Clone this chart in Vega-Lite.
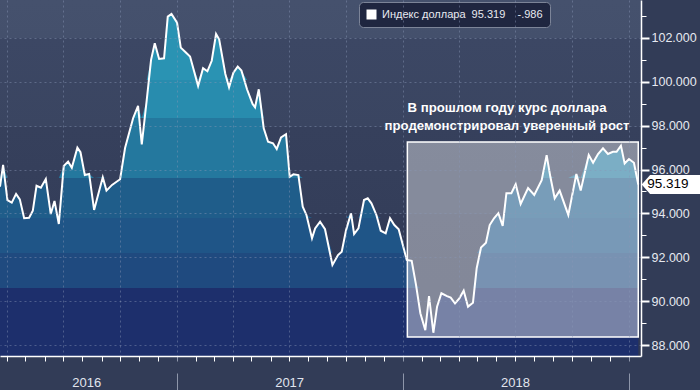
{
  "$schema": "https://vega.github.io/schema/vega-lite/v6.json",
  "width": 641,
  "height": 356,
  "autosize": {"type": "none"},
  "padding": {"left": 0, "top": 0, "right": 59, "bottom": 34},
  "background": "#323c57",
  "config": {
    "view": {
      "stroke": null,
      "fill": {"gradient": "linear", "x1": 0, "y1": 0, "x2": 0, "y2": 1, "stops": [
        {"offset": 0, "color": "#45516d"}, {"offset": 0.107, "color": "#44506c"},
        {"offset": 0.107, "color": "#3c4764"}, {"offset": 0.357, "color": "#3a4561"},
        {"offset": 0.357, "color": "#36405c"}, {"offset": 0.601, "color": "#343e5a"},
        {"offset": 0.601, "color": "#323b57"}, {"offset": 1, "color": "#303954"}
      ]}
    }
  },
  "resolve": {"scale": {"y": "independent"}},
  "datasets": {
    "dxy": [
      {"date": "2016-03-21", "value": 95.22}, {"date": "2016-03-26", "value": 96.21}, {"date": "2016-04-02", "value": 94.61}, {"date": "2016-04-09", "value": 94.49},
      {"date": "2016-04-16", "value": 94.89}, {"date": "2016-04-22", "value": 94.64}, {"date": "2016-04-29", "value": 93.78}, {"date": "2016-05-07", "value": 93.80},
      {"date": "2016-05-13", "value": 94.12}, {"date": "2016-05-19", "value": 95.26}, {"date": "2016-05-26", "value": 95.17}, {"date": "2016-06-03", "value": 95.57},
      {"date": "2016-06-11", "value": 93.97}, {"date": "2016-06-17", "value": 94.57}, {"date": "2016-06-24", "value": 93.52}, {"date": "2016-07-02", "value": 96.16},
      {"date": "2016-07-09", "value": 96.36}, {"date": "2016-07-15", "value": 96.08}, {"date": "2016-07-24", "value": 97.00}, {"date": "2016-07-29", "value": 96.79},
      {"date": "2016-08-05", "value": 95.75}, {"date": "2016-08-12", "value": 95.80}, {"date": "2016-08-20", "value": 94.16}, {"date": "2016-09-03", "value": 95.65},
      {"date": "2016-09-09", "value": 95.04}, {"date": "2016-09-18", "value": 95.30}, {"date": "2016-09-23", "value": 95.40}, {"date": "2016-10-01", "value": 95.56},
      {"date": "2016-10-09", "value": 96.98}, {"date": "2016-10-22", "value": 98.34}, {"date": "2016-10-30", "value": 98.90}, {"date": "2016-11-05", "value": 97.15},
      {"date": "2016-11-13", "value": 99.17}, {"date": "2016-11-20", "value": 101.00}, {"date": "2016-11-26", "value": 101.76}, {"date": "2016-12-03", "value": 101.04},
      {"date": "2016-12-11", "value": 101.07}, {"date": "2016-12-17", "value": 102.97}, {"date": "2016-12-23", "value": 103.09}, {"date": "2017-01-01", "value": 102.70},
      {"date": "2017-01-07", "value": 101.56}, {"date": "2017-01-14", "value": 101.37}, {"date": "2017-01-22", "value": 101.15}, {"date": "2017-02-04", "value": 99.81},
      {"date": "2017-02-12", "value": 100.62}, {"date": "2017-02-19", "value": 100.48}, {"date": "2017-02-26", "value": 100.96}, {"date": "2017-03-05", "value": 102.18},
      {"date": "2017-03-10", "value": 101.94}, {"date": "2017-03-20", "value": 100.36}, {"date": "2017-03-26", "value": 99.75}, {"date": "2017-04-02", "value": 100.42},
      {"date": "2017-04-09", "value": 100.69}, {"date": "2017-04-15", "value": 100.51}, {"date": "2017-04-24", "value": 99.66}, {"date": "2017-05-03", "value": 98.99},
      {"date": "2017-05-07", "value": 98.84}, {"date": "2017-05-13", "value": 99.66}, {"date": "2017-05-21", "value": 97.88}, {"date": "2017-05-28", "value": 97.27},
      {"date": "2017-06-05", "value": 97.20}, {"date": "2017-06-11", "value": 96.94}, {"date": "2017-06-18", "value": 97.47}, {"date": "2017-06-26", "value": 97.61},
      {"date": "2017-07-02", "value": 95.67}, {"date": "2017-07-08", "value": 95.78}, {"date": "2017-07-16", "value": 95.75}, {"date": "2017-07-23", "value": 94.31},
      {"date": "2017-07-29", "value": 93.93}, {"date": "2017-08-07", "value": 92.87}, {"date": "2017-08-12", "value": 93.32}, {"date": "2017-08-20", "value": 93.62},
      {"date": "2017-08-28", "value": 93.28}, {"date": "2017-09-09", "value": 91.65}, {"date": "2017-09-18", "value": 92.10}, {"date": "2017-09-24", "value": 92.25},
      {"date": "2017-10-01", "value": 93.24}, {"date": "2017-10-09", "value": 94.01}, {"date": "2017-10-14", "value": 93.06}, {"date": "2017-10-21", "value": 93.32},
      {"date": "2017-10-30", "value": 94.61}, {"date": "2017-11-05", "value": 94.69}, {"date": "2017-11-11", "value": 94.46}, {"date": "2017-11-19", "value": 93.93},
      {"date": "2017-11-26", "value": 93.21}, {"date": "2017-12-04", "value": 93.09}, {"date": "2017-12-11", "value": 93.78}, {"date": "2017-12-18", "value": 93.47},
      {"date": "2017-12-25", "value": 93.28}, {"date": "2018-01-07", "value": 91.88}, {"date": "2018-01-15", "value": 91.84}, {"date": "2018-01-22", "value": 90.74},
      {"date": "2018-01-29", "value": 89.45}, {"date": "2018-02-06", "value": 88.68}, {"date": "2018-02-12", "value": 90.23}, {"date": "2018-02-19", "value": 88.56},
      {"date": "2018-02-25", "value": 89.75}, {"date": "2018-03-04", "value": 90.36}, {"date": "2018-03-13", "value": 90.23}, {"date": "2018-03-19", "value": 90.16},
      {"date": "2018-03-26", "value": 89.90}, {"date": "2018-04-02", "value": 90.13}, {"date": "2018-04-09", "value": 90.48}, {"date": "2018-04-16", "value": 89.75},
      {"date": "2018-04-24", "value": 89.93}, {"date": "2018-04-30", "value": 91.50}, {"date": "2018-05-07", "value": 92.45}, {"date": "2018-05-15", "value": 92.66},
      {"date": "2018-05-21", "value": 93.47}, {"date": "2018-05-28", "value": 93.78}, {"date": "2018-06-04", "value": 94.01}, {"date": "2018-06-11", "value": 93.43},
      {"date": "2018-06-17", "value": 94.92}, {"date": "2018-06-25", "value": 94.92}, {"date": "2018-07-02", "value": 95.33}, {"date": "2018-07-10", "value": 94.43},
      {"date": "2018-07-22", "value": 95.16}, {"date": "2018-08-01", "value": 94.84}, {"date": "2018-08-13", "value": 95.52}, {"date": "2018-08-21", "value": 96.66},
      {"date": "2018-08-27", "value": 95.67}, {"date": "2018-09-03", "value": 94.69}, {"date": "2018-09-11", "value": 95.04}, {"date": "2018-09-25", "value": 93.93},
      {"date": "2018-10-08", "value": 95.80}, {"date": "2018-10-15", "value": 95.04}, {"date": "2018-10-28", "value": 96.66}, {"date": "2018-11-04", "value": 96.31},
      {"date": "2018-11-12", "value": 96.71}, {"date": "2018-11-20", "value": 96.97}, {"date": "2018-11-28", "value": 96.71}, {"date": "2018-12-06", "value": 96.81},
      {"date": "2018-12-12", "value": 96.81}, {"date": "2018-12-19", "value": 97.09}, {"date": "2018-12-25", "value": 96.28}, {"date": "2019-01-01", "value": 96.48},
      {"date": "2019-01-09", "value": 96.31}, {"date": "2019-01-16", "value": 95.319}
    ],
    "box": [{"start": "2018-01-08", "end": "2019-01-16", "low": 88.37, "high": 97.26}],
    "note": [{"date": "2018-06-18", "value": 98.62, "label": "В прошлом году курс доллара\nпродемонстрировал уверенный рост"}],
    "last": [{"date": "2019-01-16", "value": 95.319, "label": "95.319"}]
  },
  "layer": [
    {
      "data": {"name": "dxy"},
      "mark": {"type": "area", "color": "#1d2f6c"},
      "encoding": {
        "x": {
          "field": "date", "type": "temporal",
          "scale": {"type": "utc", "domain": [{"year": 2016, "month": 3, "date": 21, "utc": true}, {"year": 2019, "month": 1, "date": 20, "hours": 10, "utc": true}], "nice": false},
          "axis": {
            "orient": "bottom", "title": null,
            "tickCount": {"interval": "month", "step": 1},
            "domainColor": "#ffffff", "domainWidth": 1.5,
            "tickColor": {"condition": {"test": "utcmonth(datum.value) === 0", "value": "#8e96aa"}, "value": "#ffffff"},
            "tickSize": {"condition": {"test": "utcmonth(datum.value) === 0", "value": 34}, "value": 5},
            "tickDash": {"condition": {"test": "utcmonth(datum.value) === 0", "value": [5, 12, 20]}, "value": [5, 0]},
            "tickWidth": 1,
            "grid": true, "gridColor": "#8a97b5", "gridDash": [2, 3], "gridWidth": 1,
            "gridOpacity": {"condition": {"test": "utcmonth(datum.value) % 3 === 0", "value": 0.45}, "value": 0},
            "labelExpr": "utcmonth(datum.value) === 6 ? utcFormat(datum.value, '%Y') : ''",
            "labelOffset": {"condition": {"test": "utcyear(datum.value) === 2016", "value": 23}, "value": 0},
            "labelPadding": 15, "labelFont": "Liberation Sans", "labelFontSize": 13, "labelColor": "#e1e5ee",
            "labelOverlap": false, "labelFlush": false, "labelBound": false,
            "zindex": 1
          }
        },
        "y": {"field": "value", "type": "quantitative", "scale": {"domain": [87.5, 103.73], "range": [356, 0], "clamp": true, "zero": false, "nice": false}, "axis": null},
        "y2": {"datum": 87.5}
      }
    },
    {
      "data": {"name": "dxy"},
      "mark": {"type": "area", "color": "#1f4a7f"},
      "encoding": {
        "x": {"field": "date", "type": "temporal"},
        "y": {"field": "value", "type": "quantitative", "scale": {"domain": [90.6, 103.73], "range": [288.0, 0], "clamp": true, "zero": false, "nice": false}, "axis": null},
        "y2": {"datum": 90.6}
      }
    },
    {
      "data": {"name": "dxy"},
      "mark": {"type": "area", "color": "#1f5587"},
      "encoding": {
        "x": {"field": "date", "type": "temporal"},
        "y": {"field": "value", "type": "quantitative", "scale": {"domain": [92.2, 103.73], "range": [252.9, 0], "clamp": true, "zero": false, "nice": false}, "axis": null},
        "y2": {"datum": 92.2}
      }
    },
    {
      "data": {"name": "dxy"},
      "mark": {"type": "area", "color": "#1f5d8a"},
      "encoding": {
        "x": {"field": "date", "type": "temporal"},
        "y": {"field": "value", "type": "quantitative", "scale": {"domain": [93.79, 103.73], "range": [218.0, 0], "clamp": true, "zero": false, "nice": false}, "axis": null},
        "y2": {"datum": 93.79}
      }
    },
    {
      "data": {"name": "dxy"},
      "mark": {"type": "area", "color": "#24789e"},
      "encoding": {
        "x": {"field": "date", "type": "temporal"},
        "y": {"field": "value", "type": "quantitative", "scale": {"domain": [95.61, 103.73], "range": [178.1, 0], "clamp": true, "zero": false, "nice": false}, "axis": null},
        "y2": {"datum": 95.61}
      }
    },
    {
      "data": {"name": "dxy"},
      "mark": {"type": "area", "color": "#288cae"},
      "encoding": {
        "x": {"field": "date", "type": "temporal"},
        "y": {"field": "value", "type": "quantitative", "scale": {"domain": [98.35, 103.73], "range": [118.0, 0], "clamp": true, "zero": false, "nice": false}, "axis": null},
        "y2": {"datum": 98.35}
      }
    },
    {
      "data": {"name": "dxy"},
      "mark": {"type": "area", "color": "#2a93b3"},
      "encoding": {
        "x": {"field": "date", "type": "temporal"},
        "y": {"field": "value", "type": "quantitative", "scale": {"domain": [100.08, 103.73], "range": [80.1, 0], "clamp": true, "zero": false, "nice": false}, "axis": null},
        "y2": {"datum": 100.08}
      }
    },
    {
      "data": {"name": "box"},
      "mark": {"type": "rect", "fill": "#ffffff", "fillOpacity": 0.4, "stroke": "#ffffff", "strokeWidth": 1.5},
      "encoding": {
        "x": {"field": "start", "type": "temporal"},
        "x2": {"field": "end"},
        "y": {"field": "low", "type": "quantitative", "scale": {"domain": [87.5, 103.73], "zero": false, "nice": false}, "axis": null},
        "y2": {"field": "high"}
      }
    },
    {
      "data": {"name": "dxy"},
      "mark": {"type": "line", "strokeWidth": 2},
      "encoding": {
        "x": {"field": "date", "type": "temporal"},
        "y": {
          "field": "value", "type": "quantitative",
          "scale": {"domain": [87.5, 103.73], "zero": false, "nice": false},
          "axis": {
            "orient": "right", "title": null,
            "values": [88, 89, 90, 91, 92, 93, 94, 95, 96, 97, 98, 99, 100, 101, 102, 103],
            "domainColor": "#ffffff", "domainWidth": 1.5,
            "tickColor": "#ffffff",
            "tickSize": {"condition": {"test": "datum.value % 2 === 0", "value": 8}, "value": 5},
            "tickWidth": {"condition": {"test": "datum.value % 2 === 0", "value": 2}, "value": 1},
            "labelExpr": "datum.value % 2 === 0 ? format(datum.value, '.3f') : ''",
            "labelPadding": 2, "labelFont": "Liberation Sans", "labelFontSize": 12.5, "labelColor": "#e6e9f0",
            "grid": true, "gridColor": "#8a97b5", "gridDash": [2, 3], "gridWidth": 1,
            "gridOpacity": {"condition": {"test": "datum.value % 2 === 0", "value": 0.45}, "value": 0},
            "labelOverlap": false, "labelFlush": false, "labelBound": false,
            "zindex": 1
          }
        },
        "color": {
          "datum": "Индекс доллара\u00a0\u00a095.319\u00a0\u00a0\u00a0\u00a0-.986",
          "scale": {"range": ["#ffffff"]},
          "legend": {
            "orient": "none", "legendX": 359, "legendY": 2, "title": null,
            "fillColor": "#1f2640", "strokeColor": "#7c8498", "cornerRadius": 4, "padding": 7,
            "labelColor": "#e8eaf0", "labelFont": "Liberation Sans", "labelFontSize": 11, "labelOffset": 5, "labelLimit": 0,
            "symbolType": "square", "symbolSize": 100,
            "encode": {"symbols": {"update": {"fill": {"value": "#ffffff"}, "stroke": {"value": "#ffffff"}, "strokeWidth": {"value": 0}, "shape": {"value": "square"}, "size": {"value": 100}, "opacity": {"value": 1}}}}
          }
        }
      }
    },
    {
      "data": {"name": "note"},
      "mark": {"type": "text", "align": "center", "baseline": "alphabetic", "lineBreak": "\n", "lineHeight": 18, "font": "Liberation Sans", "fontSize": 13.2, "fontWeight": "bold", "color": "#ffffff"},
      "encoding": {
        "x": {"field": "date", "type": "temporal"},
        "y": {"field": "value", "type": "quantitative", "scale": {"domain": [87.5, 103.73], "zero": false, "nice": false}, "axis": null},
        "text": {"field": "label"}
      }
    },
    {
      "data": {"name": "last"},
      "mark": {"type": "point", "shape": "M -1 0 L -0.72 -0.32 L 1 -0.32 L 1 0.32 L -0.72 0.32 Z", "size": 3600, "filled": true, "fill": "#ffffff", "opacity": 1, "strokeWidth": 0, "xOffset": 33.4},
      "encoding": {
        "x": {"field": "date", "type": "temporal"},
        "y": {"field": "value", "type": "quantitative", "scale": {"domain": [87.5, 103.73], "zero": false, "nice": false}, "axis": null}
      }
    },
    {
      "data": {"name": "last"},
      "mark": {"type": "text", "align": "left", "baseline": "middle", "font": "Liberation Sans", "fontSize": 13.5, "color": "#000000", "dx": 9},
      "encoding": {
        "x": {"field": "date", "type": "temporal"},
        "y": {"field": "value", "type": "quantitative", "scale": {"domain": [87.5, 103.73], "zero": false, "nice": false}, "axis": null},
        "text": {"field": "label"}
      }
    }
  ]
}
